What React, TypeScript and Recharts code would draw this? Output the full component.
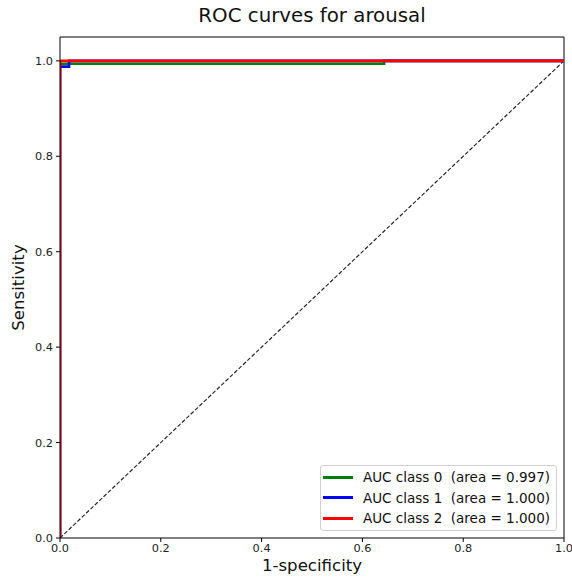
import React from "react";
import {
  LineChart,
  Line,
  XAxis,
  YAxis,
  ReferenceLine,
} from "recharts";

const fprClass0 = [0, 0, 0.643, 0.643, 1];
const tprClass0 = [0, 0.994, 0.994, 1, 1];
const fprClass1 = [0, 0, 0.018, 0.018, 1];
const tprClass1 = [0, 0.988, 0.988, 1, 1];
const fprClass2 = [0, 0, 1];
const tprClass2 = [0, 1, 1];
const chanceX = [0, 1];
const chanceY = [0, 1];

const xTicks = [0, 0.2, 0.4, 0.6, 0.8, 1.0];
const yTicks = [0, 0.2, 0.4, 0.6, 0.8, 1.0];

const seriesNames = ["AUC class 0", "AUC class 1", "AUC class 2"];
const seriesAreas = ["0.997", "1.000", "1.000"];
const seriesColors = ["#008000", "#0000ff", "#ff0000"];

const zip = (xs: number[], ys: number[]) => xs.map((x, i) => ({ x, y: ys[i] }));

const curves = [
  zip(fprClass0, tprClass0),
  zip(fprClass1, tprClass1),
  zip(fprClass2, tprClass2),
];
const chance = zip(chanceX, chanceY);

const FONT = "'DejaVu Sans', sans-serif";
const tickStyle = { fontSize: 11.3, fill: "#222", fontFamily: FONT };

export default function App() {
  return (
    <div
      style={{
        position: "fixed",
        left: 0,
        top: 0,
        width: 572,
        height: 579,
        background: "#fff",
        fontFamily: FONT,
      }}
    >
      <div
        style={{
          position: "absolute",
          left: 60,
          width: 504,
          top: 4,
          textAlign: "center",
          fontSize: 19.8,
          color: "#111",
          lineHeight: "24px",
        }}
      >
        ROC curves for arousal
      </div>
      <LineChart
        width={572}
        height={579}
        margin={{ top: 37, right: 8, left: 0, bottom: 0 }}
      >
        <XAxis
          type="number"
          dataKey="x"
          domain={[0, 1]}
          allowDataOverflow
          ticks={xTicks}
          tickFormatter={(v: number) => v.toFixed(1)}
          height={41}
          tick={tickStyle}
          tickSize={4}
          tickMargin={2}
          stroke="#000"
          label={{
            value: "1-specificity",
            position: "insideBottom",
            offset: 8,
            style: { fontSize: 16.6, fill: "#111", fontFamily: FONT },
          }}
        />
        <YAxis
          type="number"
          dataKey="y"
          domain={[0, 1.05]}
          allowDataOverflow
          ticks={yTicks}
          tickFormatter={(v: number) => v.toFixed(1)}
          width={60}
          tick={tickStyle}
          tickSize={4}
          tickMargin={3}
          stroke="#000"
          label={{
            value: "Sensitivity",
            angle: -90,
            position: "insideLeft",
            offset: 18,
            style: { fontSize: 16.6, fill: "#111", fontFamily: FONT, textAnchor: "middle" },
          }}
        />
        <ReferenceLine y={1.05} stroke="#000" />
        <ReferenceLine x={1} stroke="#000" />
        <Line
          data={chance}
          dataKey="y"
          type="linear"
          stroke="#222"
          strokeWidth={1.1}
          strokeDasharray="4 2"
          dot={false}
          isAnimationActive={false}
        />
        {curves.map((d, i) => (
          <Line
            key={seriesNames[i]}
            data={d}
            dataKey="y"
            name={seriesNames[i]}
            type="linear"
            stroke={seriesColors[i]}
            strokeWidth={2.6}
            dot={false}
            isAnimationActive={false}
          />
        ))}
      </LineChart>
      <div
        style={{
          position: "absolute",
          left: 320,
          top: 465,
          width: 237,
          height: 66,
          boxSizing: "border-box",
          border: "1px solid #d0d0d0",
          borderRadius: 3,
          background: "rgba(255,255,255,0.8)",
          paddingTop: 1,
        }}
      >
        {seriesNames.map((n, i) => (
          <div
            key={n}
            style={{
              height: 20.5,
              display: "flex",
              alignItems: "center",
              fontSize: 13.5,
              color: "#111",
              whiteSpace: "pre",
            }}
          >
            <span
              style={{
                display: "inline-block",
                marginLeft: 2,
                width: 30,
                height: 2.6,
                background: seriesColors[i],
                marginRight: 10,
              }}
            />
            {`${n}  (area = ${seriesAreas[i]})`}
          </div>
        ))}
      </div>
    </div>
  );
}
